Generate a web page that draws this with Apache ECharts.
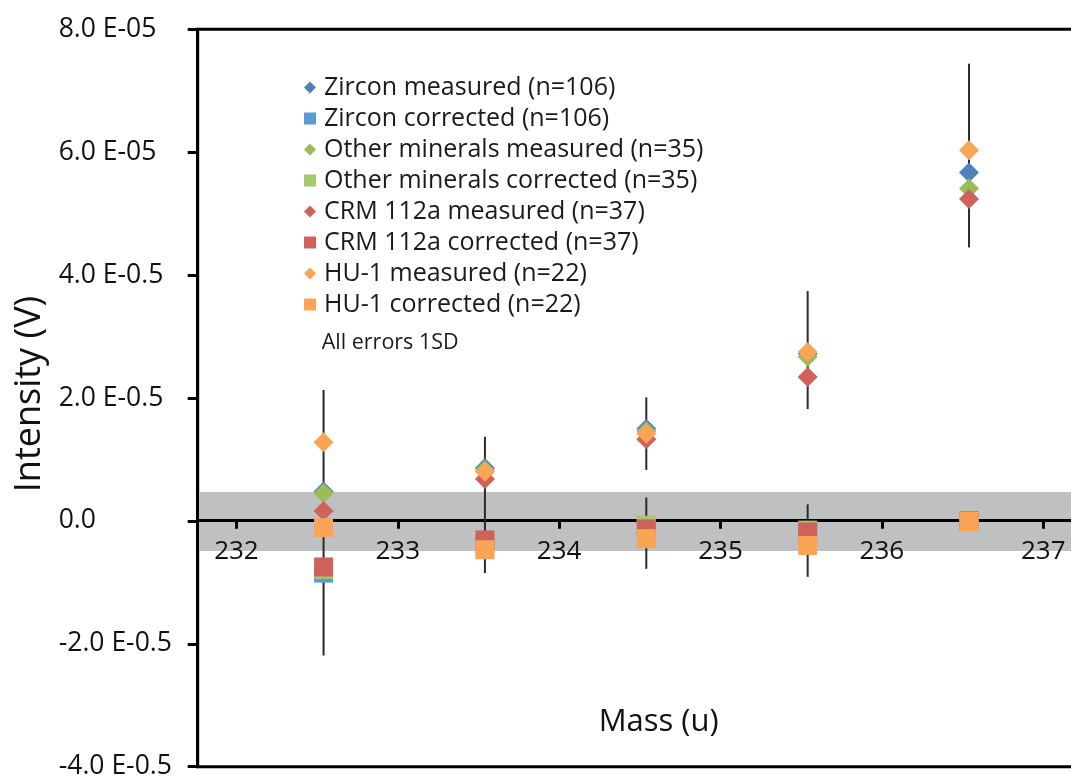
<!DOCTYPE html>
<html><head><meta charset="utf-8">
<script src="https://cdn.jsdelivr.net/npm/echarts@6/dist/echarts.min.js"></script>
<style>html,body{margin:0;padding:0;background:#fff}#c{width:1071px;height:777px}</style>
</head><body><div id="c"></div>
<script>
const FONT = '"Open Sans", "Noto Sans", sans-serif';

// x positions (mass, u) of the five measurement groups
const mass = [232.54, 233.54, 234.54, 235.54, 236.54];

// intensities (V)
const zirconMeasured  = [0.48e-5, 0.86e-5, 1.50e-5, 2.72e-5, 5.67e-5];
const zirconCorrected = [-0.85e-5, -0.38e-5, -0.10e-5, -0.20e-5, 0.00e-5];
const otherMeasured   = [0.45e-5, 0.83e-5, 1.46e-5, 2.67e-5, 5.41e-5];
const otherCorrected  = [-0.79e-5, -0.36e-5, -0.07e-5, -0.15e-5, 0.00e-5];
const crmMeasured     = [0.16e-5, 0.68e-5, 1.33e-5, 2.34e-5, 5.24e-5];
const crmCorrected    = [-0.75e-5, -0.31e-5, -0.13e-5, -0.18e-5, 0.00e-5];
const huMeasured      = [1.28e-5, 0.80e-5, 1.42e-5, 2.75e-5, 6.03e-5];
const huCorrected     = [-0.11e-5, -0.47e-5, -0.29e-5, -0.40e-5, -0.01e-5];

// error bar segments (1SD)
const errMass = [232.54, 233.54, 234.54, 234.54, 235.54, 235.54, 236.54];
const errLow  = [-2.19e-5, -0.85e-5, 0.83e-5, -0.78e-5, 1.82e-5, -0.91e-5, 4.45e-5];
const errHigh = [2.13e-5, 1.37e-5, 2.01e-5, 0.38e-5, 3.74e-5, 0.27e-5, 7.44e-5];

// background band (detection limit)
const bandLow = -0.49e-5;
const bandHigh = 0.47e-5;

// tick labels
const yTickValues = [-4e-5, -2e-5, 0, 2e-5, 4e-5, 6e-5, 8e-5];
const yTickLabels = ['-4.0 E-0.5', '-2.0 E-0.5', '0.0', '2.0 E-0.5', '4.0 E-0.5', '6.0 E-05', '8.0 E-05'];
const xTickLabels = ['232', '233', '234', '235', '236', '237'];

const seriesDefs = [
  { name: 'Zircon measured (n=106)', values: zirconMeasured, symbol: 'diamond', color: '#4F81BD' },
  { name: 'Zircon corrected (n=106)', values: zirconCorrected, symbol: 'rect', color: '#5B9BD5' },
  { name: 'Other minerals measured (n=35)', values: otherMeasured, symbol: 'diamond', color: '#9BBB59' },
  { name: 'Other minerals corrected (n=35)', values: otherCorrected, symbol: 'rect', color: '#A5C86A' },
  { name: 'CRM 112a measured (n=37)', values: crmMeasured, symbol: 'diamond', color: '#D0625C' },
  { name: 'CRM 112a corrected (n=37)', values: crmCorrected, symbol: 'rect', color: '#D0625C' },
  { name: 'HU-1 measured (n=22)', values: huMeasured, symbol: 'diamond', color: '#F9A555' },
  { name: 'HU-1 corrected (n=22)', values: huCorrected, symbol: 'rect', color: '#F9A555' }
];

const chart = echarts.init(document.getElementById('c'), null, { renderer: 'canvas' });

const series = [{
  type: 'custom',
  name: 'errors',
  z: 2,
  silent: true,
  encode: { x: 0, y: [1, 2] },
  data: errMass.map((m, i) => [m, errLow[i], errHigh[i]]),
  renderItem: function (params, api) {
    const p1 = api.coord([api.value(0), api.value(1)]);
    const p2 = api.coord([api.value(0), api.value(2)]);
    return { type: 'line', shape: { x1: p1[0], y1: p1[1], x2: p2[0], y2: p2[1] },
             style: { stroke: '#2a2a2a', lineWidth: 2 } };
  },
  markArea: {
    silent: true, z: 0,
    itemStyle: { color: '#BFC0C2' },
    label: { show: false },
    data: [[{ yAxis: bandLow }, { yAxis: bandHigh }]]
  }
}];
seriesDefs.forEach(d => {
  series.push({
    type: 'scatter', name: d.name, z: 3,
    symbol: d.symbol, symbolSize: d.symbol === 'diamond' ? 20 : 19,
    itemStyle: { color: d.color, opacity: 1 },
    emphasis: { disabled: true },
    data: mass.map((m, i) => [m, d.values[i]])
  });
});

chart.setOption({
  animation: false,
  backgroundColor: '#fff',
  grid: { left: 197.7, top: 29.3, bottom: 10.3, right: -12.6, show: true,
          outerBoundsMode: 'none', containLabel: false,
          borderColor: '#000', borderWidth: 3, backgroundColor: 'transparent' },
  legend: {
    orient: 'vertical', left: 299, top: 67, itemWidth: 12, itemHeight: 12, itemGap: 0,
    selectedMode: false,
    data: seriesDefs.map(d => d.name),
    textStyle: { fontFamily: FONT, fontSize: 25, color: '#1a1a1a', lineHeight: 31, padding: [0, 0, 0, 3] }
  },
  graphic: [{
    type: 'text', left: 321.7, top: 332,
    style: { text: 'All errors 1SD', fontFamily: FONT, fontSize: 21.5, fill: '#1a1a1a' }
  }],
  xAxis: {
    type: 'value', min: 231.76, max: 237.25, z: 1,
    position: 'bottom', offset: -246,
    name: 'Mass (u)', nameLocation: 'middle', nameGap: 186,
    nameTextStyle: { fontFamily: FONT, fontSize: 31, color: '#111', padding: [0, 0, 0, 36] },
    axisLine: { onZero: false, lineStyle: { color: '#000', width: 3 } },
    axisTick: { show: true, length: 8, lineStyle: { color: '#000', width: 3 } },
    axisLabel: {
      fontFamily: FONT, fontSize: 26, color: '#111', margin: 18,
      formatter: v => {
        const r = Math.round(v);
        if (Math.abs(v - r) > 1e-6) return '';
        const i = r - 232;
        return xTickLabels[i] !== undefined ? xTickLabels[i] : '';
      }
    },
    splitLine: { show: false }
  },
  yAxis: {
    type: 'value', min: -4e-5, max: 8e-5, interval: 2e-5, z: 1,
    name: 'Intensity (V)', nameLocation: 'middle', nameGap: 148, nameRotate: 90,
    nameTextStyle: { fontFamily: FONT, fontSize: 36, color: '#111', padding: [0, 0, 0, 8] },
    axisLine: { show: true, lineStyle: { color: '#000', width: 3 } },
    axisTick: { show: true, length: 10, lineStyle: { color: '#000', width: 3 } },
    axisLabel: {
      fontFamily: FONT, fontSize: 26.5, color: '#111', align: 'left', margin: 139,
      formatter: v => {
        let best = 0, bd = Infinity;
        yTickValues.forEach((t, i) => { const d = Math.abs(t - v); if (d < bd) { bd = d; best = i; } });
        return yTickLabels[best];
      }
    },
    splitLine: { show: false }
  },
  series: series
});
</script></body></html>
